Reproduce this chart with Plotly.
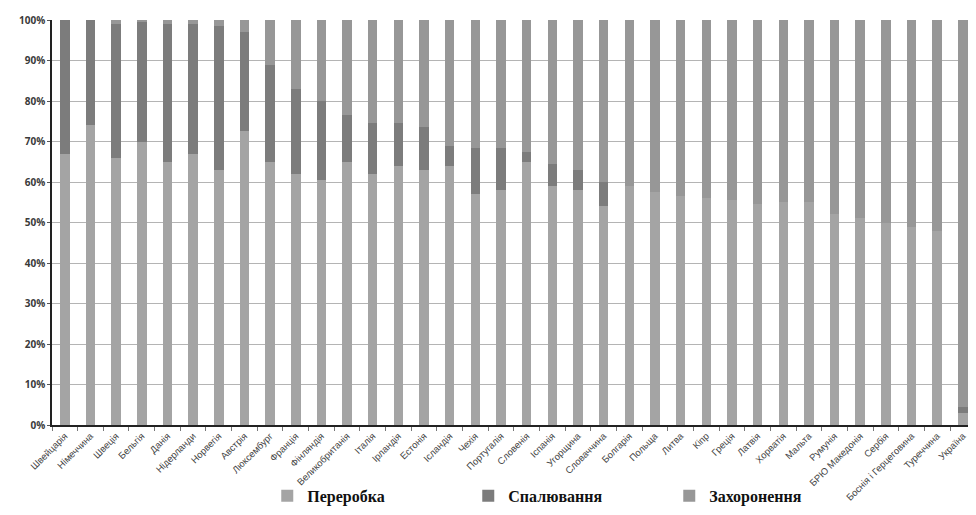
import plotly.graph_objects as go

countries = ["Швейцарія", "Німеччина", "Швеція", "Бельгія", "Данія", "Нідерланди",
             "Норвегія", "Австрія", "Люксембург", "Франція", "Фінляндія", "Великобританія",
             "Італія", "Ірландія", "Естонія", "Ісландія", "Чехія", "Португалія", "Словенія",
             "Іспанія", "Угорщина", "Словаччина", "Болгарія", "Польща", "Литва", "Кіпр",
             "Греція", "Латвія", "Хорватія", "Мальта", "Румунія", "БРЮ Македонія", "Сербія",
             "Боснія і Герцеговина", "Туреччина", "Україна"]

recycling = [67, 74, 66, 70, 65, 67, 63, 72.5, 65, 62, 60.5, 65,
             62, 64, 63, 64, 57, 58, 65, 59, 58, 54,
             59, 57.5, 56.5, 56, 55.5, 54.5, 55, 55, 52, 51, 50, 49, 48, 3]

incineration = [33, 26, 33, 29.5, 34, 32, 35.5, 24.5, 24, 21, 19.5, 11.5,
                12.5, 10.5, 10.5, 5, 11.5, 10.5, 2.5, 5.5, 5, 6,
                0, 0, 0, 0, 0, 0, 0, 0, 0, 0, 0, 0, 0, 1.5]

landfill = [0, 0, 1, 0.5, 1, 1, 1.5, 3, 11, 17, 20, 23.5,
            25.5, 25.5, 26.5, 31, 31.5, 31.5, 32.5, 35.5, 37, 40,
            41, 42.5, 43.5, 44, 44.5, 45.5, 45, 45, 48, 49, 50, 51, 52, 95.5]

series_names = ["Переробка", "Спалювання", "Захоронення"]
colors = ["#a4a4a4", "#7c7c7c", "#979797"]

fig = go.Figure()
for name, vals, col in zip(series_names, [recycling, incineration, landfill], colors):
    fig.add_trace(go.Bar(x=countries, y=vals, name=name, marker_color=col,
                         marker_line_width=0))

fig.update_layout(
    barmode="stack",
    bargap=0.63,
    width=960, height=499,
    margin=dict(l=44, r=0, t=12, b=82, autoexpand=False),
    plot_bgcolor="white", paper_bgcolor="white",
    showlegend=True,
    legend=dict(orientation="h", x=0.235, xanchor="left", y=-0.175, yanchor="middle",
                entrywidth=156, entrywidthmode="pixels",
                bgcolor="rgba(0,0,0,0)",
                font=dict(family="Liberation Serif", size=16, color="#111111", weight="bold"),
                itemsizing="constant", traceorder="normal"),
    font=dict(family="Open Sans", color="#444444"),
)
fig.update_yaxes(range=[0, 100], dtick=10, ticksuffix="%",
                 showgrid=True, gridcolor="#b4b4b4", gridwidth=1,
                 showline=True, linecolor="#222222", linewidth=1.5,
                 ticks="outside", ticklen=3, tickcolor="#555555",
                 tickfont=dict(size=10, color="#3a3a3a", weight="bold"), zeroline=False)
fig.update_xaxes(range=[-0.5, 35.2], tickangle=-45, automargin=False,
                 showline=True, linecolor="#222222", linewidth=1.5,
                 ticks="outside", ticklen=4, tickcolor="#777777", tickson="boundaries",
                 tickfont=dict(family="Liberation Sans", size=9.5, color="#444444"),
                 showgrid=False)

fig.write_html("out.html")
